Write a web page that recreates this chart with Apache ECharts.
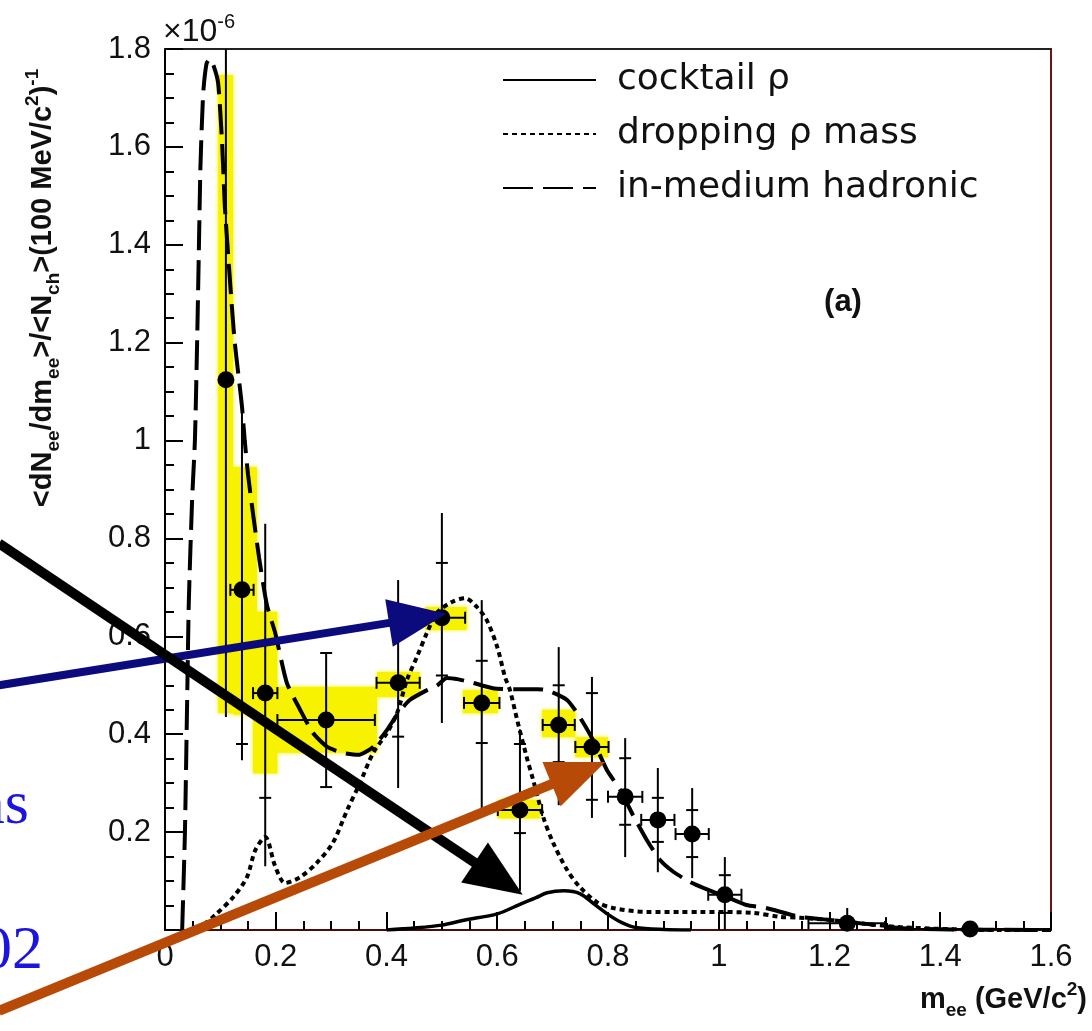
<!DOCTYPE html>
<html>
<head>
<meta charset="utf-8">
<script src="https://cdn.jsdelivr.net/npm/echarts@6/dist/echarts.min.js"></script>
<style>
html, body { margin: 0; padding: 0; background: #fff; }
#graph { width: 1092px; height: 1031px; }
</style>
</head>
<body>
<div id="graph"></div>
<script>
// data points, yield in units of 1e-6
const massPts  = [0.110, 0.139, 0.181, 0.291, 0.421, 0.500, 0.572, 0.641, 0.711, 0.771, 0.831, 0.890, 0.952, 1.011, 1.232, 1.454]
const yieldPts = [1.124, 0.695, 0.484, 0.429, 0.505, 0.638, 0.464, 0.245, 0.419, 0.374, 0.272, 0.225, 0.196, 0.072, 0.014, 0.002]
const massErr  = [0.000, 0.021, 0.022, 0.088, 0.039, 0.042, 0.032, 0.040, 0.029, 0.030, 0.031, 0.030, 0.030, 0.030, 0.070, 0.150]
const errLow   = [0.435, 0.347, 0.130, 0.292, 0.290, 0.423, 0.245, 0.080, 0.255, 0.229, 0.149, 0.118, 0.106, 0.000, 0.000, 0.000]
const errHigh  = [1.810, 1.070, 0.830, 0.566, 0.715, 0.852, 0.674, 0.410, 0.578, 0.517, 0.392, 0.331, 0.290, 0.149, 0.045, 0.010]
const statLow  = [null, 0.380, 0.270, 0.292, 0.395, 0.520, 0.382, 0.198, 0.343, 0.266, 0.215, 0.180, 0.149, 0.035, null, null]
const statHigh = [null, null, null, 0.566, 0.615, 0.750, 0.550, 0.380, 0.500, 0.484, 0.351, 0.270, 0.245, 0.112, null, null]

// systematic error boxes: [mLow, mHigh, yLow, yHigh]
const sysBoxes = [
  [0.096, 0.123, 0.443, 1.747],
  [0.123, 0.166, 0.440, 0.946],
  [0.159, 0.203, 0.320, 0.650],
  [0.202, 0.383, 0.362, 0.497],
  [0.383, 0.460, 0.476, 0.527],
  [0.470, 0.545, 0.613, 0.660],
  [0.538, 0.601, 0.443, 0.490],
  [0.601, 0.677, 0.228, 0.266],
  [0.681, 0.741, 0.394, 0.450],
  [0.741, 0.800, 0.353, 0.394]
]

const cocktail = [[0.40,0],[0.45,0.004],[0.50,0.010],[0.54,0.020],[0.60,0.033],[0.64,0.052],[0.67,0.066],[0.69,0.076],
  [0.72,0.080],[0.75,0.074],[0.775,0.053],[0.80,0.032],[0.825,0.015],[0.85,0.005],[0.90,0.001],[0.95,0]]

const dropping = [[0.058,0],[0.09,0.03],[0.123,0.067],[0.148,0.108],[0.163,0.163],[0.181,0.19],[0.199,0.13],[0.217,0.096],
  [0.244,0.108],[0.274,0.137],[0.303,0.178],[0.329,0.245],[0.352,0.30],[0.376,0.362],[0.401,0.403],[0.419,0.443],
  [0.437,0.511],[0.455,0.558],[0.473,0.607],[0.491,0.648],[0.518,0.67],[0.542,0.678],[0.563,0.66],[0.581,0.633],
  [0.60,0.578],[0.614,0.517],[0.623,0.49],[0.636,0.429],[0.653,0.354],[0.665,0.306],[0.683,0.231],[0.701,0.178],
  [0.726,0.123],[0.749,0.088],[0.78,0.057],[0.809,0.045],[0.87,0.037],[0.93,0.037],[0.966,0.037],[1.062,0.035],
  [1.11,0.027],[1.147,0.025],[1.206,0.02],[1.327,0.006],[1.51,0],[1.6,0]]

const inMedium = [[0.031,0],[0.036,0.2],[0.040,0.47],[0.043,0.67],[0.049,0.88],[0.054,1.0],[0.058,1.2],[0.061,1.38],
  [0.064,1.56],[0.069,1.71],[0.075,1.77],[0.081,1.78],[0.088,1.765],[0.096,1.73],[0.103,1.61],[0.108,1.48],
  [0.114,1.38],[0.121,1.27],[0.126,1.2],[0.132,1.14],[0.139,1.07],[0.144,1.0],[0.150,0.93],[0.159,0.85],[0.17,0.76],
  [0.184,0.664],[0.199,0.607],[0.22,0.505],[0.244,0.45],[0.267,0.403],[0.293,0.374],[0.321,0.362],[0.349,0.358],
  [0.376,0.374],[0.401,0.409],[0.421,0.443],[0.442,0.47],[0.473,0.49],[0.491,0.499],[0.509,0.515],[0.53,0.512],
  [0.556,0.505],[0.592,0.494],[0.63,0.492],[0.672,0.492],[0.69,0.49],[0.726,0.47],[0.749,0.435],[0.773,0.388],
  [0.798,0.327],[0.822,0.286],[0.845,0.235],[0.87,0.184],[0.894,0.143],[0.918,0.119],[0.948,0.098],[0.972,0.086],
  [1.015,0.067],[1.05,0.051],[1.085,0.045],[1.146,0.027],[1.206,0.02],[1.27,0.012],[1.327,0.004],[1.42,0.001],[1.6,0]]

const xTicks = [0, 0.2, 0.4, 0.6, 0.8, 1, 1.2, 1.4, 1.6]
const yTicks = [0.2, 0.4, 0.6, 0.8, 1, 1.2, 1.4, 1.6, 1.8]

// annotation arrows, in data coordinates
const arrowFrom = [[-0.30, 0.50], [-0.30, 0.79], [-0.30, -0.165]]
const arrowTo   = [[0.508, 0.646], [0.646, 0.072], [0.795, 0.343]]
const arrowColors = ['#0b0b7d', '#000000', '#b84a07']
const arrowWidths = [8, 10, 10]

const sans = 'Liberation Sans'

let errData = massPts.map((m, i) => [m, yieldPts[i], m - massErr[i], m + massErr[i], errLow[i], errHigh[i], statLow[i], statHigh[i]])

function num(v) {
  return v !== null && v !== undefined && !isNaN(v)
}

function renderErr(params, api) {
  let m = api.value(0), v = api.value(1)
  let c = api.coord([m, v])
  let xl = api.coord([api.value(2), v])[0]
  let xr = api.coord([api.value(3), v])[0]
  let yl = api.coord([m, api.value(4)])[1]
  let yh = api.coord([m, api.value(5)])[1]
  let st = {stroke: '#000', lineWidth: 2}
  let kids = [{type: 'line', shape: {x1: c[0], y1: yl, x2: c[0], y2: yh}, style: st}]
  if (xr - xl > 2) {
    kids.push({type: 'line', shape: {x1: xl, y1: c[1], x2: xr, y2: c[1]}, style: st})
    kids.push({type: 'line', shape: {x1: xl, y1: c[1] - 6, x2: xl, y2: c[1] + 6}, style: st})
    kids.push({type: 'line', shape: {x1: xr, y1: c[1] - 6, x2: xr, y2: c[1] + 6}, style: st})
  }
  for (let k of [6, 7]) {
    let s = errData[params.dataIndex][k]
    if (num(s)) {
      let y = api.coord([m, s])[1]
      kids.push({type: 'line', shape: {x1: c[0] - 6, y1: y, x2: c[0] + 6, y2: y}, style: st})
    }
  }
  return {type: 'group', children: kids}
}

function renderBox(params, api) {
  let p1 = api.coord([api.value(0), api.value(3)])
  let p2 = api.coord([api.value(1), api.value(2)])
  return {
    type: 'rect',
    shape: {x: p1[0], y: p1[1], width: p2[0] - p1[0], height: p2[1] - p1[1]},
    style: {fill: '#f7f200', shadowBlur: 4, shadowColor: '#f7f200'}
  }
}

const option = {
  animation: false,
  backgroundColor: '#fff',
  grid: {left: 165, right: 41, top: 49, bottom: 101},
  legend: {
    orient: 'vertical',
    left: 497,
    top: 57,
    itemWidth: 93,
    itemHeight: 20,
    itemGap: 18,
    data: ['cocktail ρ', 'dropping ρ mass', 'in-medium hadronic'],
    itemStyle: {opacity: 0},
    textStyle: {fontFamily: 'DejaVu Sans', fontSize: 36, color: '#111', padding: [0, 0, 0, 16]}
  },
  xAxis: [{
    type: 'value', min: 0, max: 1.6, interval: 0.2,
    axisLine: {onZero: false, lineStyle: {color: '#4a0c0c', width: 2}},
    axisTick: {inside: true, length: 18, lineStyle: {color: '#000', width: 2}},
    minorTick: {show: true, splitNumber: 4, length: 9, lineStyle: {color: '#000', width: 2}},
    splitLine: {show: false},
    axisLabel: {
      fontFamily: sans, fontSize: 31, color: '#111', margin: 12,
      formatter: v => xTicks.includes(+v.toFixed(1)) ? String(+v.toFixed(1)) : ''
    }
  }, {
    type: 'value', min: 0, max: 1.6, position: 'top',
    axisLine: {show: true, onZero: false, lineStyle: {color: '#222', width: 2}},
    axisTick: {show: false}, axisLabel: {show: false}, splitLine: {show: false}
  }],
  yAxis: [{
    type: 'value', min: 0, max: 1.8, interval: 0.2,
    axisLine: {show: true, onZero: false, lineStyle: {color: '#000', width: 2}},
    axisTick: {inside: true, length: 18, lineStyle: {color: '#000', width: 2}},
    minorTick: {show: true, splitNumber: 4, length: 9, lineStyle: {color: '#000', width: 2}},
    splitLine: {show: false},
    axisLabel: {
      fontFamily: sans, fontSize: 31, color: '#111', margin: 14,
      formatter: v => yTicks.includes(+v.toFixed(1)) ? String(+v.toFixed(1)) : ''
    }
  }, {
    type: 'value', min: 0, max: 1.8, position: 'right',
    axisLine: {show: true, onZero: false, lineStyle: {color: '#6e1414', width: 2}},
    axisTick: {show: false}, axisLabel: {show: false}, splitLine: {show: false}
  }],
  series: [
    {
      type: 'custom', name: 'sys', renderItem: renderBox, clip: true, z: 1,
      encode: {x: [0, 1], y: [2, 3]},
      data: sysBoxes
    },
    {
      name: 'cocktail ρ', type: 'line', data: cocktail, symbol: 'none', smooth: 0.3, z: 3,
      lineStyle: {color: '#000', width: 3.5, type: 'solid'}, itemStyle: {color: '#000'}
    },
    {
      name: 'dropping ρ mass', type: 'line', data: dropping, symbol: 'none', smooth: 0.3, z: 3,
      lineStyle: {color: '#000', width: 4, type: [5, 4]}, itemStyle: {color: '#000'}
    },
    {
      name: 'in-medium hadronic', type: 'line', data: inMedium, symbol: 'none', smooth: 0.2, z: 3,
      lineStyle: {color: '#000', width: 4, type: [30, 10]}, itemStyle: {color: '#000'}
    },
    {
      type: 'custom', name: 'errors', renderItem: renderErr, clip: true, z: 4,
      encode: {x: 0, y: 1},
      data: errData
    },
    {
      type: 'scatter', name: 'data', z: 5, symbol: 'circle', symbolSize: 17,
      itemStyle: {color: '#000', opacity: 1},
      data: massPts.map((m, i) => [m, yieldPts[i]])
    }
  ]
}

const chart = echarts.init(document.getElementById('graph'))
chart.setOption(option)

// texts and arrows drawn on top
let graphics = [
  {
    type: 'text', x: 43, y: 288, rotation: Math.PI / 2, z: 50,
    style: {
      text: '{b|<dN}{s|ee}{b|/dm}{s|ee}{b|>/<N}{s|ch}{b|>(100 MeV/c}{p|2}{b|)}{p|-1}',
      align: 'center', verticalAlign: 'middle',
      rich: {
        b: {fontFamily: sans, fontWeight: 'bold', fontSize: 29, lineHeight: 40, verticalAlign: 'middle', fill: '#111'},
        s: {fontFamily: sans, fontWeight: 'bold', fontSize: 19, lineHeight: 20, verticalAlign: 'bottom', fill: '#111'},
        p: {fontFamily: sans, fontWeight: 'bold', fontSize: 19, lineHeight: 20, verticalAlign: 'top', fill: '#111'}
      }
    }
  },
  {
    type: 'text', x: 1087, y: 1000, z: 50,
    style: {
      text: '{b|m}{s|ee}{b| (GeV/c}{p|2}{b|)}',
      align: 'right', verticalAlign: 'middle',
      rich: {
        b: {fontFamily: sans, fontWeight: 'bold', fontSize: 29, lineHeight: 40, verticalAlign: 'middle', fill: '#111'},
        s: {fontFamily: sans, fontWeight: 'bold', fontSize: 19, lineHeight: 20, verticalAlign: 'bottom', fill: '#111'},
        p: {fontFamily: sans, fontWeight: 'bold', fontSize: 19, lineHeight: 20, verticalAlign: 'top', fill: '#111'}
      }
    }
  },
  {
    type: 'text', x: 163, y: 32, z: 50,
    style: {
      text: '{b|×10}{p|-6}',
      align: 'left', verticalAlign: 'middle',
      rich: {
        b: {fontFamily: sans, fontSize: 32, lineHeight: 40, verticalAlign: 'middle', fill: '#111'},
        p: {fontFamily: sans, fontSize: 20, lineHeight: 20, verticalAlign: 'top', fill: '#111'}
      }
    }
  },
  {
    type: 'text', x: 843, y: 302, z: 50,
    style: {text: '(a)', font: 'bold 31px "Liberation Sans"', fill: '#111', align: 'center', verticalAlign: 'middle'}
  },
  {
    type: 'text', x: 29, y: 807, z: 60,
    style: {text: 'as', font: '62px "Liberation Serif"', fill: '#1c14e0', align: 'right', verticalAlign: 'middle'}
  },
  {
    type: 'text', x: 43, y: 952, z: 60,
    style: {text: '02', font: '62px "Liberation Serif"', fill: '#1c14e0', align: 'right', verticalAlign: 'middle'}
  }
]

for (let i = 0; i < arrowFrom.length; i++) {
  let a = chart.convertToPixel({gridIndex: 0}, arrowFrom[i])
  let b = chart.convertToPixel({gridIndex: 0}, arrowTo[i])
  let dx = b[0] - a[0], dy = b[1] - a[1]
  let len = Math.sqrt(dx * dx + dy * dy)
  let ux = dx / len, uy = dy / len
  let headLen = 58, headHalf = 24
  let bx = b[0] - ux * headLen, by = b[1] - uy * headLen
  graphics.push({
    type: 'line', z: 70 + i,
    shape: {x1: a[0], y1: a[1], x2: bx + ux * 2, y2: by + uy * 2},
    style: {stroke: arrowColors[i], lineWidth: arrowWidths[i]}
  })
  graphics.push({
    type: 'polygon', z: 70 + i,
    shape: {points: [[b[0], b[1]], [bx - uy * headHalf, by + ux * headHalf], [bx + uy * headHalf, by - ux * headHalf]]},
    style: {fill: arrowColors[i]}
  })
}

chart.setOption({graphic: graphics})
</script>
</body>
</html>
